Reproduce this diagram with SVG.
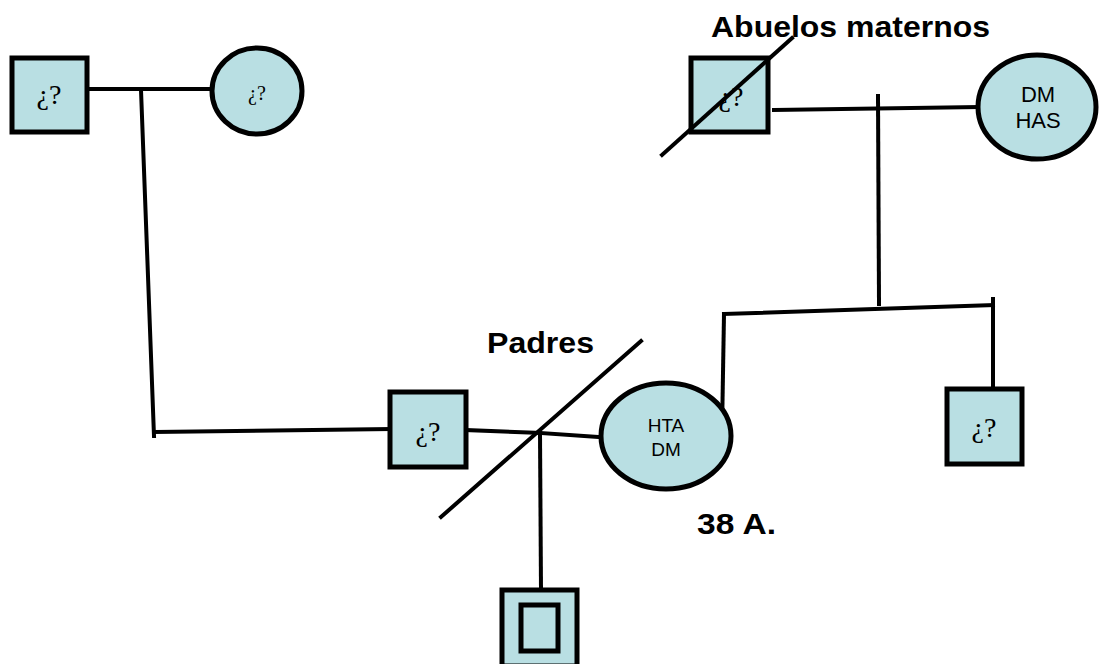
<svg xmlns="http://www.w3.org/2000/svg" width="1100" height="664" viewBox="0 0 1100 664">
<style>
.n{fill:#b9dfe3;stroke:#000;stroke-width:5}
.c{fill:none;stroke:#000;stroke-width:4;stroke-linecap:square}
.q{font-family:"Liberation Serif",serif;fill:#000;text-anchor:middle}
.s{font-family:"Liberation Sans",Arial,sans-serif;fill:#000;text-anchor:middle}
.b{font-family:"Liberation Sans",Arial,sans-serif;font-weight:bold;font-size:29px;fill:#000}
</style>
<rect width="1100" height="664" fill="#fff"/>
<g id="connectors">
<line class="c" x1="87" y1="89" x2="213" y2="89"/>
<line class="c" x1="141" y1="90" x2="154" y2="436"/>
<line class="c" x1="155" y1="432" x2="390" y2="429"/>
<line class="c" x1="466" y1="430" x2="540" y2="433"/>
<line class="c" x1="540" y1="433" x2="600" y2="437"/>
<line class="c" x1="540" y1="433" x2="541" y2="590"/>
<line class="c" x1="774" y1="110" x2="978" y2="107"/>
<line class="c" x1="878" y1="96" x2="879" y2="304"/>
<line class="c" x1="724" y1="314" x2="993" y2="305"/>
<line class="c" x1="724" y1="314" x2="722" y2="432"/>
<line class="c" x1="993" y1="299" x2="993" y2="388"/>
</g>
<g id="pgf">
<rect class="n" x="12" y="58" width="75" height="74"/>
<text class="q" x="49" y="104" font-size="28">¿?</text>
</g>
<g id="pgm">
<ellipse class="n" cx="257" cy="91" rx="45" ry="43"/>
<text class="q" x="257" y="100" font-size="20">¿?</text>
</g>
<g id="mgf">
<rect class="n" x="691" y="58" width="77" height="74"/>
<text class="q" x="731" y="106" font-size="28">¿?</text>
<line class="c" x1="662" y1="155" x2="792" y2="38"/>
</g>
<g id="mgm">
<ellipse class="n" cx="1037" cy="107" rx="59" ry="52"/>
<text class="s" x="1038" y="102" font-size="22">DM</text>
<text class="s" x="1038" y="128" font-size="22">HAS</text>
</g>
<g id="father">
<rect class="n" x="390" y="392" width="76" height="75"/>
<text class="q" x="428" y="441" font-size="28">¿?</text>
</g>
<g id="mother">
<ellipse class="n" cx="666" cy="436" rx="65" ry="53"/>
<text class="s" x="666" y="432" font-size="19">HTA</text>
<text class="s" x="666" y="456" font-size="19">DM</text>
</g>
<g id="divorce">
<line class="c" x1="441" y1="517" x2="641" y2="341"/>
</g>
<g id="uncle">
<rect class="n" x="947" y="389" width="75" height="75"/>
<text class="q" x="984" y="437" font-size="28">¿?</text>
</g>
<g id="proband">
<rect class="n" x="502" y="590" width="75" height="76"/>
<rect class="n" x="521" y="605" width="37" height="46"/>
</g>
<g id="labels">
<text class="b" x="711" y="37" textLength="279" lengthAdjust="spacingAndGlyphs">Abuelos maternos</text>
<text class="b" x="487" y="353" textLength="107" lengthAdjust="spacingAndGlyphs">Padres</text>
<text class="b" x="697" y="534" textLength="79" lengthAdjust="spacingAndGlyphs">38 A.</text>
</g>
</svg>
